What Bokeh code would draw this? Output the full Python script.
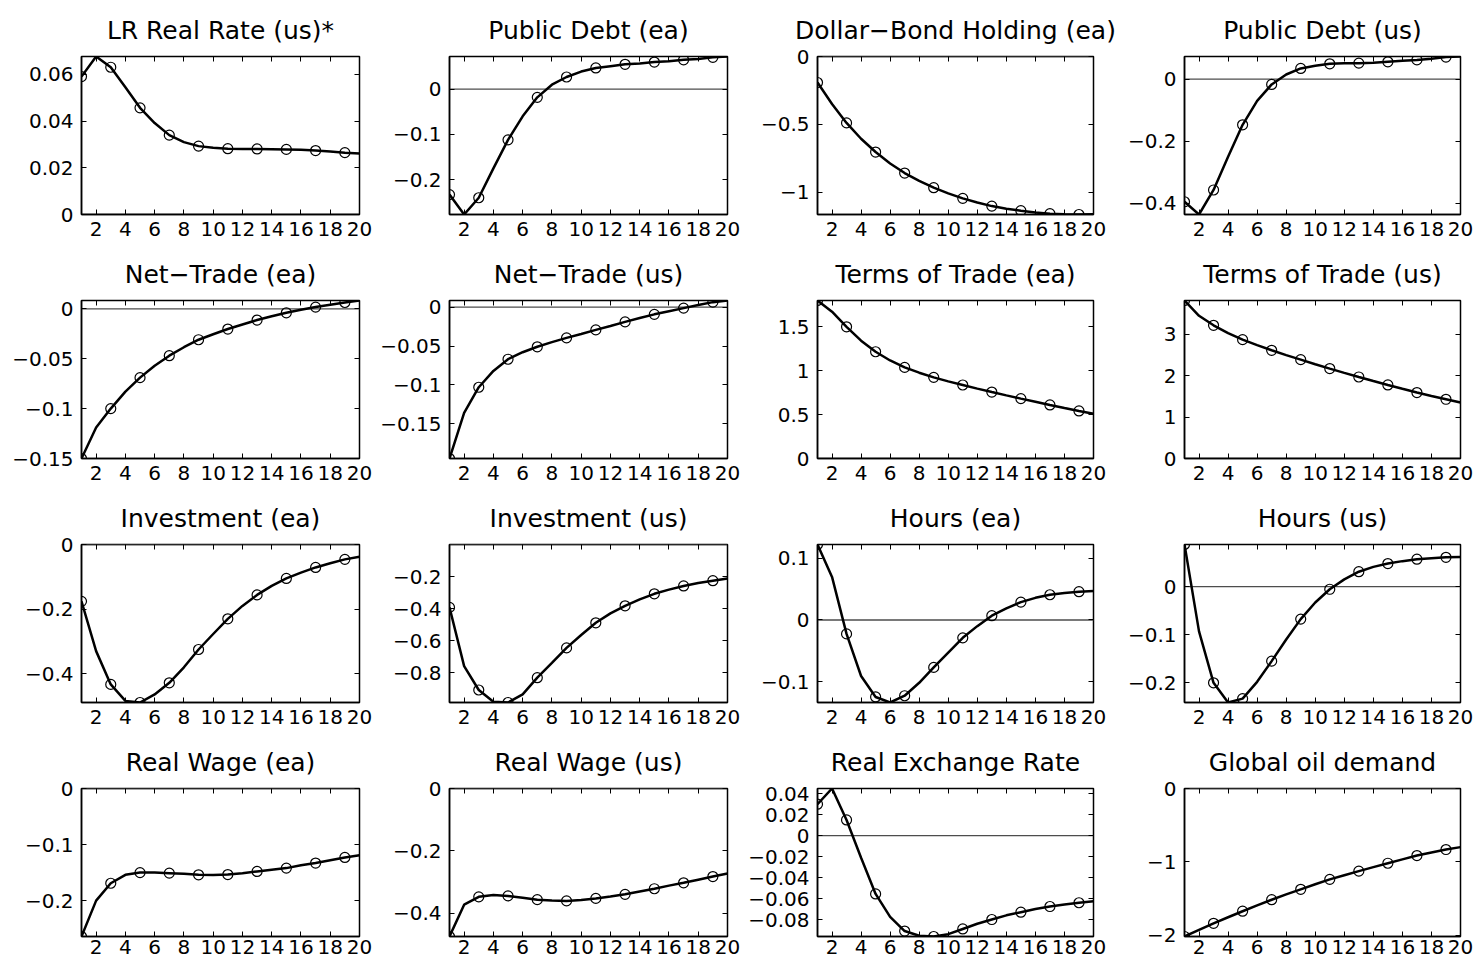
from bokeh.plotting import figure
from bokeh.layouts import gridplot
from bokeh.models import Range1d, FixedTicker, CustomJSTickFormatter, LinearAxis, Span
from bokeh.embed import file_html
from bokeh.resources import INLINE

# ---------------- data ----------------
periods = [1, 2, 3, 4, 5, 6, 7, 8, 9, 10, 11, 12, 13, 14, 15, 16, 17, 18, 19, 20]
x_ticks = [2, 4, 6, 8, 10, 12, 14, 16, 18, 20]

titles = [
    "LR Real Rate (us)*", "Public Debt (ea)", "Dollar\u2212Bond Holding (ea)", "Public Debt (us)",
    "Net\u2212Trade (ea)", "Net\u2212Trade (us)", "Terms of Trade (ea)", "Terms of Trade (us)",
    "Investment (ea)", "Investment (us)", "Hours (ea)", "Hours (us)",
    "Real Wage (ea)", "Real Wage (us)", "Real Exchange Rate", "Global oil demand",
]

lr_real_rate_us = [0.0591, 0.0677, 0.0631, 0.0545, 0.0457, 0.0392, 0.0340, 0.0310, 0.0293, 0.0286,
                   0.0282, 0.0281, 0.0281, 0.0280, 0.0279, 0.0277, 0.0274, 0.0270, 0.0265, 0.0261]
public_debt_ea = [-0.233, -0.277, -0.240, -0.175, -0.112, -0.060, -0.018, 0.010, 0.027, 0.039,
                  0.047, 0.051, 0.055, 0.057, 0.060, 0.062, 0.065, 0.067, 0.0705, 0.0723]
dollar_bond_ea = [-0.192, -0.350, -0.490, -0.607, -0.705, -0.790, -0.860, -0.918, -0.968, -1.010,
                  -1.047, -1.078, -1.104, -1.123, -1.138, -1.151, -1.160, -1.164, -1.166, -1.165]
public_debt_us = [-0.395, -0.436, -0.357, -0.250, -0.147, -0.070, -0.017, 0.015, 0.0345, 0.043,
                  0.0494, 0.051, 0.0516, 0.053, 0.056, 0.059, 0.062, 0.066, 0.0711, 0.073]
net_trade_ea = [-0.150, -0.119, -0.100, -0.083, -0.069, -0.057, -0.047, -0.0385, -0.031, -0.0255,
                -0.0203, -0.0157, -0.0113, -0.0075, -0.004, -0.001, 0.0017, 0.004, 0.0063, 0.0083]
net_trade_us = [-0.1946, -0.136, -0.103, -0.082, -0.067, -0.058, -0.051, -0.045, -0.0395, -0.0345,
                -0.0293, -0.0242, -0.019, -0.0141, -0.0093, -0.0053, -0.0013, 0.0027, 0.0064, 0.0085]
terms_of_trade_ea = [1.797, 1.670, 1.498, 1.340, 1.214, 1.115, 1.036, 0.976, 0.923, 0.877,
                     0.836, 0.795, 0.756, 0.718, 0.681, 0.645, 0.609, 0.574, 0.541, 0.510]
terms_of_trade_us = [3.82, 3.45, 3.22, 3.03, 2.874, 2.74, 2.616, 2.50, 2.39, 2.28,
                     2.174, 2.07, 1.971, 1.873, 1.778, 1.685, 1.594, 1.51, 1.432, 1.353]
investment_ea = [-0.176, -0.330, -0.433, -0.484, -0.489, -0.464, -0.428, -0.380, -0.325, -0.277,
                 -0.230, -0.190, -0.156, -0.128, -0.105, -0.087, -0.071, -0.058, -0.046, -0.038]
investment_us = [-0.393, -0.760, -0.909, -0.982, -0.987, -0.936, -0.832, -0.740, -0.646, -0.565,
                 -0.489, -0.430, -0.383, -0.343, -0.308, -0.282, -0.259, -0.241, -0.226, -0.212]
hours_ea = [0.1226, 0.070, -0.0226, -0.091, -0.125, -0.134, -0.123, -0.102, -0.077, -0.053,
            -0.029, -0.010, 0.007, 0.019, 0.029, 0.036, 0.041, 0.044, 0.046, 0.047]
hours_us = [0.0876, -0.093, -0.200, -0.241, -0.233, -0.198, -0.155, -0.110, -0.0676, -0.033,
            -0.0055, 0.015, 0.031, 0.041, 0.048, 0.053, 0.057, 0.059, 0.061, 0.0615]
real_wage_ea = [-0.264, -0.200, -0.169, -0.154, -0.150, -0.150, -0.151, -0.152, -0.154, -0.1545,
                -0.1535, -0.151, -0.148, -0.145, -0.142, -0.137, -0.133, -0.128, -0.123, -0.119]
real_wage_us = [-0.474, -0.372, -0.347, -0.341, -0.344, -0.350, -0.356, -0.359, -0.360, -0.357,
                -0.352, -0.346, -0.339, -0.330, -0.321, -0.311, -0.302, -0.292, -0.282, -0.272]
real_exchange_rate = [0.030, 0.045, 0.015, -0.021, -0.0556, -0.0775, -0.091, -0.0955, -0.0962, -0.094,
                      -0.089, -0.084, -0.080, -0.076, -0.073, -0.070, -0.0676, -0.0657, -0.064, -0.0625]
global_oil_demand = [-2.02, -1.93, -1.84, -1.757, -1.675, -1.595, -1.518, -1.446, -1.376, -1.307,
                     -1.24, -1.183, -1.128, -1.073, -1.02, -0.967, -0.915, -0.873, -0.833, -0.80]

series = [
    lr_real_rate_us, public_debt_ea, dollar_bond_ea, public_debt_us,
    net_trade_ea, net_trade_us, terms_of_trade_ea, terms_of_trade_us,
    investment_ea, investment_us, hours_ea, hours_us,
    real_wage_ea, real_wage_us, real_exchange_rate, global_oil_demand,
]

y_ticks = [
    [0, 0.02, 0.04, 0.06], [-0.2, -0.1, 0], [-1, -0.5, 0], [-0.4, -0.2, 0],
    [-0.15, -0.1, -0.05, 0], [-0.15, -0.1, -0.05, 0], [0, 0.5, 1, 1.5], [0, 1, 2, 3],
    [-0.4, -0.2, 0], [-0.8, -0.6, -0.4, -0.2], [-0.1, 0, 0.1], [-0.2, -0.1, 0],
    [-0.2, -0.1, 0], [-0.4, -0.2, 0], [-0.08, -0.06, -0.04, -0.02, 0, 0.02, 0.04], [-2, -1, 0],
]

# ---------------- layout / styling ----------------
FONT = "DejaVu Sans"
TICK_FONT_SIZE = "20px"
TITLE_FONT_SIZE = "25px"
FRAME_W = 278
COL_W = [376, 369, 379, 354]
COL_L = [81, 73, 70, 58]
ROW_H = [244, 244, 244, 230]
ROW_FRAME_H = [158, 158, 158, 148]
ROW_X_STANDOFF = [7, 7, 7, 3]
BORDER_T = 56

num_fmt = CustomJSTickFormatter(code="""
let s = Number(tick.toPrecision(6)).toString();
return s.replace('-', '\u2212');
""")


def style_axis(ax, labels=True):
    ax.major_tick_in = 5
    ax.major_tick_out = 0
    ax.minor_tick_line_color = None
    ax.major_tick_line_color = "black"
    ax.major_tick_line_width = 1
    ax.axis_line_color = "black"
    ax.axis_line_width = 1.5
    if labels:
        ax.major_label_text_font = FONT
        ax.major_label_text_font_size = TICK_FONT_SIZE
        ax.major_label_text_color = "black"


figs = []
for i, (title, vals, yt) in enumerate(zip(titles, series, y_ticks)):
    r, c = divmod(i, 4)
    fw, fh = COL_W[c], ROW_H[r]
    ymin = min(min(vals), 0)
    ymax = max(max(vals), 0)
    p = figure(width=fw, height=fh, output_backend="svg", toolbar_location=None,
               x_range=Range1d(min(periods), max(periods)), y_range=Range1d(ymin, ymax),
               min_border_left=COL_L[c], min_border_right=fw - COL_L[c] - FRAME_W,
               min_border_top=BORDER_T, min_border_bottom=fh - BORDER_T - ROW_FRAME_H[r],
               background_fill_color="white", border_fill_color="white")

    p.xgrid.visible = False
    p.ygrid.visible = False
    p.outline_line_color = "black"
    p.outline_line_width = 1.5
    p.outline_line_alpha = 1.0

    xa = p.xaxis[0]
    xa.ticker = FixedTicker(ticks=x_ticks)
    xa.formatter = num_fmt
    xa.major_label_standoff = ROW_X_STANDOFF[r]
    style_axis(xa)

    ya = p.yaxis[0]
    ya.ticker = FixedTicker(ticks=yt)
    ya.formatter = num_fmt
    ya.major_label_standoff = 8
    style_axis(ya)

    blank = CustomJSTickFormatter(code="return '';")
    ra = LinearAxis(ticker=FixedTicker(ticks=yt), formatter=blank, major_label_standoff=0)
    style_axis(ra, labels=False)
    ra.axis_line_color = None
    p.add_layout(ra, "right")

    # top axis: inside ticks, and the panel title as its label
    ta = LinearAxis(ticker=FixedTicker(ticks=x_ticks), formatter=blank, major_label_standoff=0,
                    axis_label=title, axis_label_standoff=12)
    style_axis(ta, labels=False)
    ta.axis_line_color = None
    ta.axis_label_text_font = FONT
    ta.axis_label_text_font_size = TITLE_FONT_SIZE
    ta.axis_label_text_font_style = "normal"
    ta.axis_label_text_color = "black"
    p.add_layout(ta, "above")

    zero = Span(location=0, dimension="width", line_color="#4d4d4d", line_width=1.3, level="underlay")
    p.add_layout(zero)

    p.line(periods, vals, line_color="black", line_width=2.5)
    p.scatter(periods[::2], vals[::2], marker="circle", size=10, fill_color=None,
              line_color="black", line_width=1.2)
    figs.append(p)

grid = gridplot(figs, ncols=4, toolbar_location=None)

open("out.html", "w").write(file_html(grid, INLINE))
